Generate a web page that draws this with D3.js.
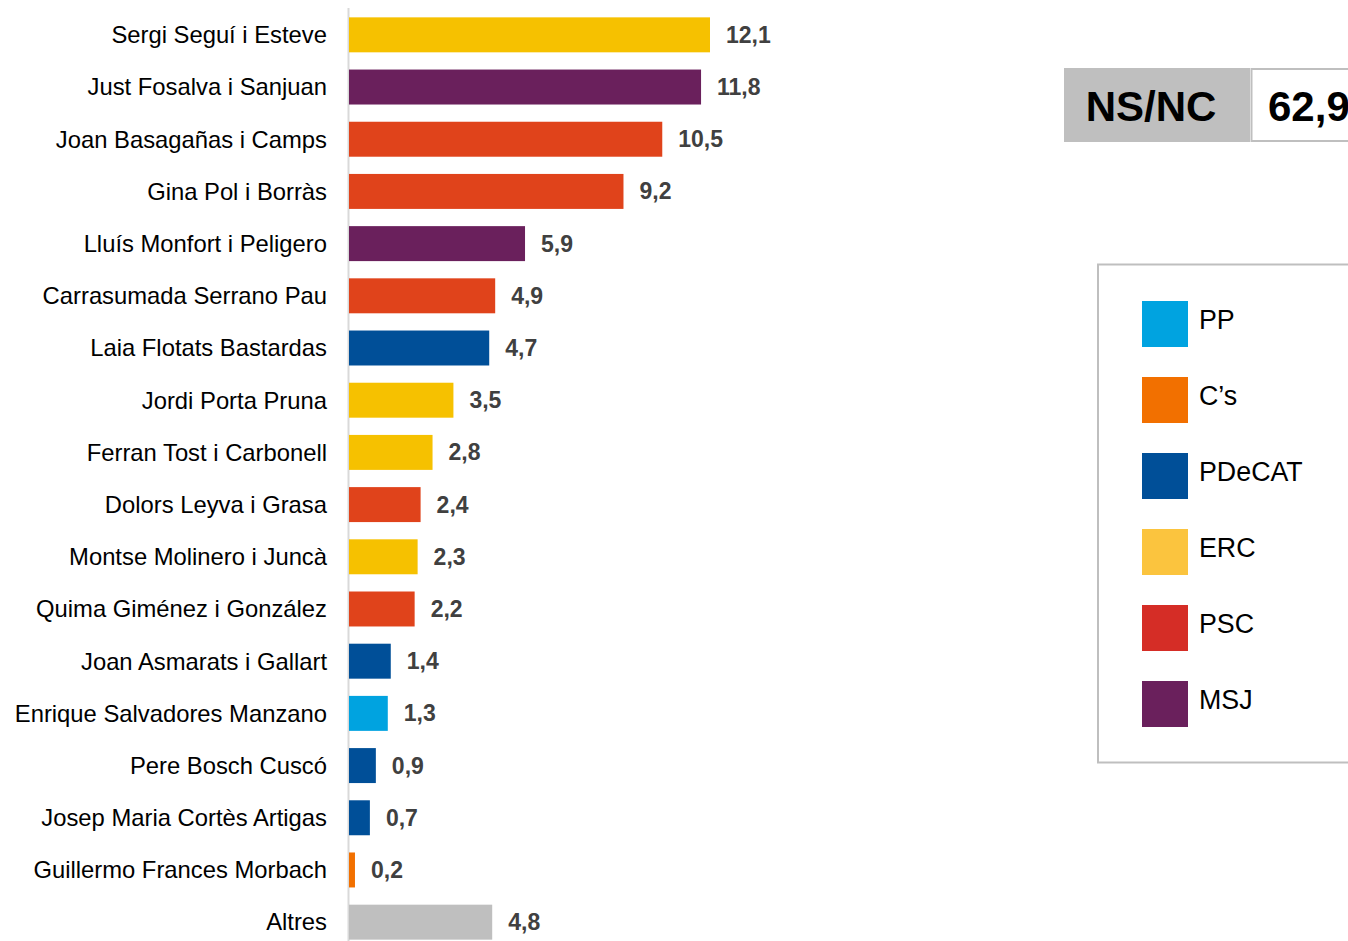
<!DOCTYPE html>
<html>
<head>
<meta charset="utf-8">
<script src="https://cdn.jsdelivr.net/npm/d3@7"></script>
<style>
  body { margin: 0; background: #fff; overflow: hidden; }
  svg { display: block; font-family: "Liberation Sans", Arial, sans-serif; }
</style>
</head>
<body>
<svg id="chart" width="1348" height="941"></svg>
<script>
// Candidate valuation chart

const candidates = [
  "Sergi Seguí i Esteve", "Just Fosalva i Sanjuan", "Joan Basagañas i Camps",
  "Gina Pol i Borràs", "Lluís Monfort i Peligero", "Carrasumada Serrano Pau",
  "Laia Flotats Bastardas", "Jordi Porta Pruna", "Ferran Tost i Carbonell",
  "Dolors Leyva i Grasa", "Montse Molinero i Juncà", "Quima Giménez i González",
  "Joan Asmarats i Gallart", "Enrique Salvadores Manzano", "Pere Bosch Cuscó",
  "Josep Maria Cortès Artigas", "Guillermo Frances Morbach", "Altres"
];
const values = [12.1, 11.8, 10.5, 9.2, 5.9, 4.9, 4.7, 3.5, 2.8, 2.4, 2.3, 2.2, 1.4, 1.3, 0.9, 0.7, 0.2, 4.8];
const parties = ["ERC", "MSJ", "PSC", "PSC", "MSJ", "PSC", "PDeCAT", "ERC", "ERC",
  "PSC", "ERC", "PSC", "PDeCAT", "PP", "PDeCAT", "PDeCAT", "Cs", "Altres"];

const legendKeys = ["PP", "Cs", "PDeCAT", "ERC", "PSC", "MSJ"];
const legendLabels = ["PP", "C’s", "PDeCAT", "ERC", "PSC", "MSJ"];
const legendColors = ["#00A3E0", "#F27000", "#004F98", "#FBC43E", "#D52D26", "#6A205C"];

const nsncLabel = "NS/NC";
const nsncValue = 62.9;

// bar colours are a bit different from the legend swatches in the original
const barColor = d3.scaleOrdinal()
  .domain(["PP", "Cs", "PDeCAT", "ERC", "PSC", "MSJ", "Altres"])
  .range(["#00A3E0", "#F27000", "#004F98", "#F6C100", "#E0431B", "#6A205C", "#BFBFBF"]);

const fmt = v => d3.format(".1f")(v).replace(".", ",");

const svg = d3.select("#chart");

const x = d3.scaleLinear().domain([0, 12.1]).range([349, 710]);
const y = d3.scaleBand().domain(candidates).range([9, 948]).paddingInner(0.33).paddingOuter(0.16);

// axis line
svg.append("line")
  .attr("x1", 348.5).attr("x2", 348.5)
  .attr("y1", 8).attr("y2", 941)
  .attr("stroke", "#d9d9d9").attr("stroke-width", 2);

const rows = candidates.map((c, i) => ({ name: c, value: values[i], party: parties[i] }));

svg.append("g").selectAll("rect")
  .data(rows).enter().append("rect")
  .attr("x", x(0))
  .attr("y", d => y(d.name))
  .attr("width", d => x(d.value) - x(0))
  .attr("height", y.bandwidth())
  .attr("fill", d => barColor(d.party));

svg.append("g").selectAll("text")
  .data(rows).enter().append("text")
  .attr("x", 327)
  .attr("y", d => y(d.name) + y.bandwidth() / 2)
  .attr("dy", "0.35em")
  .attr("text-anchor", "end")
  .attr("font-size", 23.8)
  .attr("fill", "#000")
  .text(d => d.name);

svg.append("g").selectAll("text")
  .data(rows).enter().append("text")
  .attr("x", d => x(d.value) + 16)
  .attr("y", d => y(d.name) + y.bandwidth() / 2)
  .attr("dy", "0.35em")
  .attr("font-size", 23)
  .attr("font-weight", "bold")
  .attr("fill", "#404040")
  .text(d => fmt(d.value));

// NS/NC box
const ns = svg.append("g");
ns.append("rect").attr("x", 1064).attr("y", 68).attr("width", 186).attr("height", 74).attr("fill", "#BFBFBF");
ns.append("rect").attr("x", 1251.5).attr("y", 69).attr("width", 120).attr("height", 72)
  .attr("fill", "#fff").attr("stroke", "#BFBFBF").attr("stroke-width", 2);
ns.append("text").attr("x", 1151).attr("y", 106).attr("dy", "0.35em")
  .attr("text-anchor", "middle").attr("font-size", 42).attr("font-weight", "bold").text(nsncLabel);
ns.append("text").attr("x", 1268).attr("y", 106).attr("dy", "0.35em")
  .attr("font-size", 42).attr("font-weight", "bold").text(fmt(nsncValue));

// legend
const lg = svg.append("g");
lg.append("rect").attr("x", 1098).attr("y", 264.5).attr("width", 300).attr("height", 498)
  .attr("fill", "#fff").attr("stroke", "#BFBFBF").attr("stroke-width", 2);
const ly = d3.scalePoint().domain(legendKeys).range([324, 704]);
const items = lg.selectAll("g.item").data(legendKeys).enter().append("g");
items.append("rect")
  .attr("x", 1142).attr("y", d => ly(d) - 23)
  .attr("width", 46).attr("height", 46)
  .attr("fill", (d, i) => legendColors[i]);
items.append("text")
  .attr("x", 1199).attr("y", d => ly(d) - 4).attr("dy", "0.35em")
  .attr("font-size", 26.8)
  .text((d, i) => legendLabels[i]);
</script>
</body>
</html>
